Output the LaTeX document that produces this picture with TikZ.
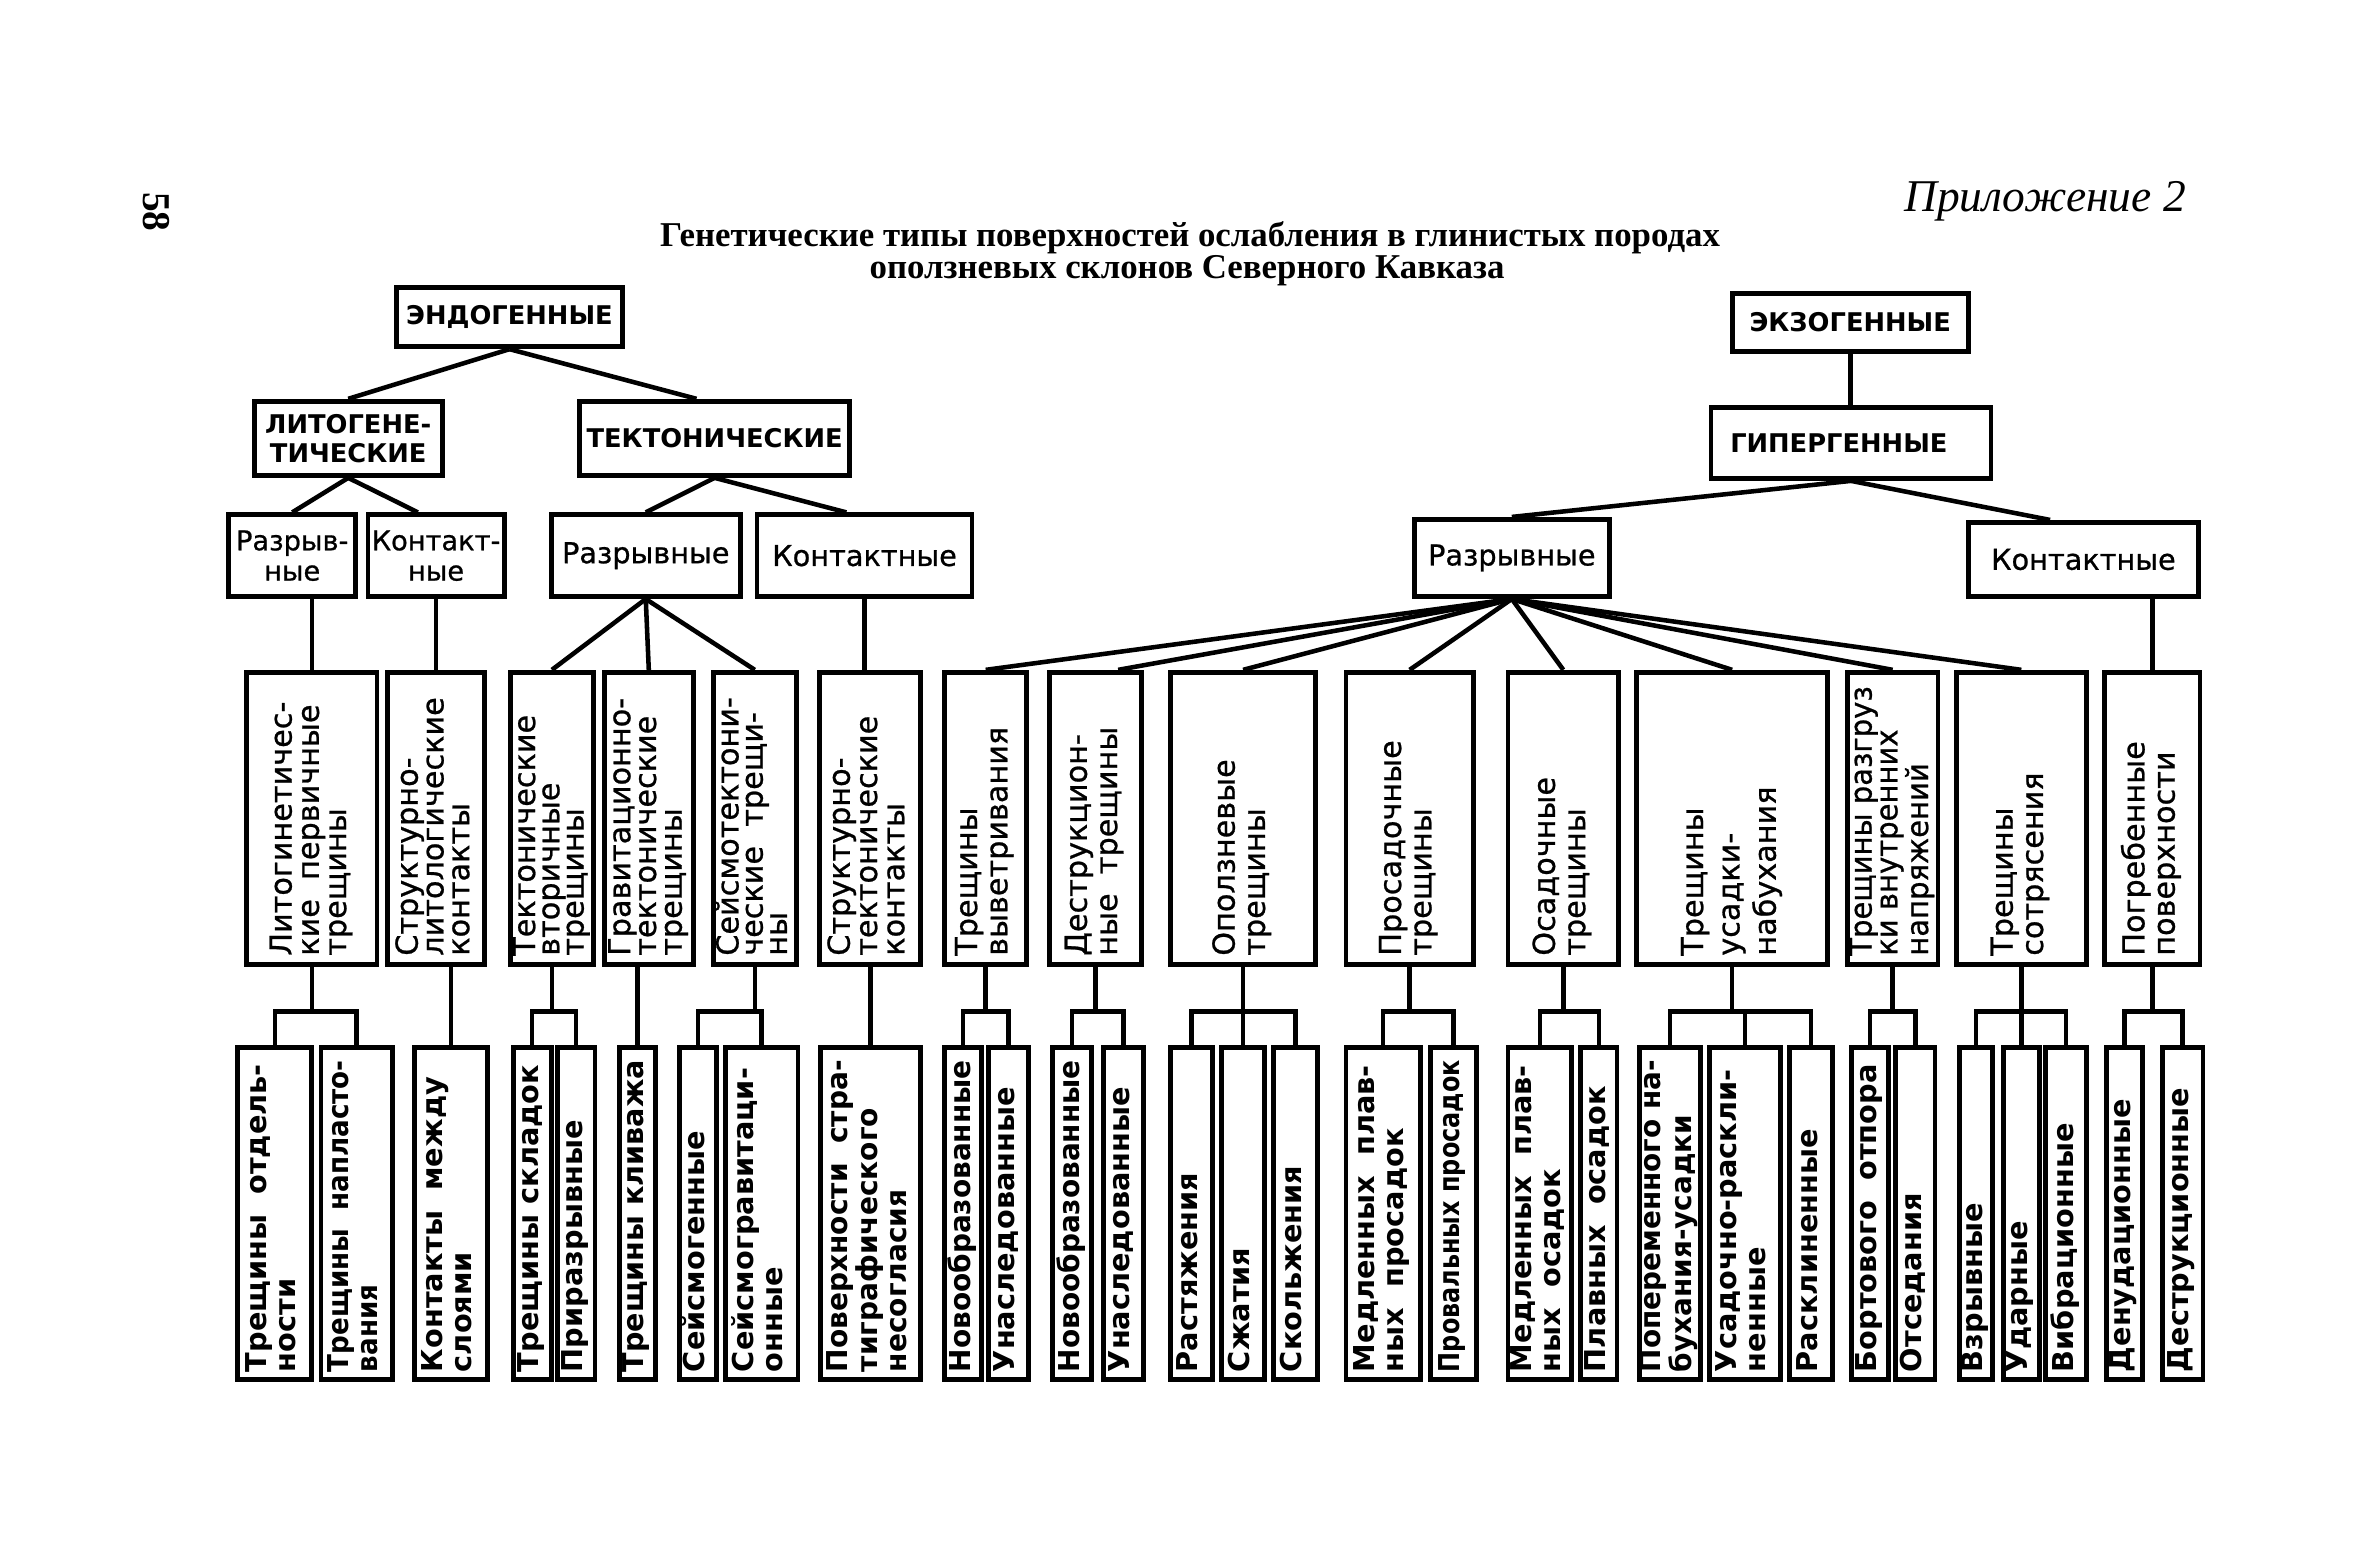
\documentclass[tikz,border=0pt]{standalone}
\usepackage{fontspec}
\usepackage{graphicx}
\setmainfont{Liberation Serif}
\newfontfamily\dvs{DejaVu Sans}
\newfontfamily\dvsm[FakeBold=0.8]{DejaVu Sans}
\usetikzlibrary{fit,calc}
\newsavebox\vtbox
\newcommand\vtext[2]{\sbox\vtbox{\begin{tabular}{@{}l@{}}#2\end{tabular}}\ifdim\wd\vtbox>#1\relax\resizebox{#1}{\height}{\usebox\vtbox}\else\usebox\vtbox\fi}
\newcommand\midbox[5][9.5]{\node[box, fit={(#3,444) (#4,637)}] (#2) {};
  \node[midlab] (#2t) at ($(#2.south)+(0,-7)$) {\fontsize{10}{#1}\selectfont\vtext{89pt}{#5}};}
\newcommand\botbox[5][9.5]{\node[box, fit={(#3,692) (#4,911)}] (#2) {};
  \node[botlab] (#2t) at ($(#2.south)+(0,-6)$) {\fontsize{9.5}{#1}\selectfont\vtext{103pt}{#5}};}
\newcommand\brk[3]{\draw[conn] (#1.south) -- (#1.south |- by);
  \draw[conn] (#2.north) -- (#2.north |- by) -- (#3.north |- by) -- (#3.north);}
\newcommand\drop[1]{\draw[conn] (#1.north) -- (#1.north |- by);}
\begin{document}
\begin{tikzpicture}[x=0.5pt,y=-0.5pt,
  box/.style={draw, line width=1.6pt, inner sep=0pt},
  conn/.style={line width=1.5pt},
  toplab/.style={font=\dvs\bfseries\fontsize{8.5}{9.5}\selectfont, align=center, inner sep=0pt},
  lvlab/.style={font=\dvsm\fontsize{9.5}{10}\selectfont, align=center, inner sep=0pt},
  midlab/.style={rotate=90, anchor=west, inner sep=0pt, font=\dvsm},
  botlab/.style={rotate=90, anchor=west, inner sep=0pt, font=\dvs\bfseries}]
\useasboundingbox (0,0) rectangle (1560,1029.7);
% titles
\node[font=\bfseries\fontsize{11.5}{13}\selectfont, anchor=base, inner sep=0pt] (t1) at (786,163) {Генетические типы поверхностей ослабления в глинистых породах};
\node[font=\bfseries\fontsize{11.5}{13}\selectfont, anchor=base, inner sep=0pt] (t2) at (784,184) {оползневых склонов Северного Кавказа};
\node[font=\itshape\fontsize{15}{17}\selectfont, anchor=base east, inner sep=0pt] (app) at (1444,140) {Приложение 2};
\node[font=\bfseries\fontsize{13}{15}\selectfont, rotate=-90, inner sep=0pt] (pg) at (103,140) {58};
% upper levels
\node[box, fit={(262,190) (411,229)}] (endo) {};
\node[box, fit={(1144,194) (1300,232)}] (exo) {};
\node[box, fit={(168,265) (292,314)}] (lito) {};
\node[box, fit={(383,265) (561,314)}] (tekt) {};
\node[box, fit={(1130,269) (1315,316)}] (hyp) {};
\node[box, fit={(151,340) (235,394)}] (lr) {};
\node[box, fit={(243,340) (333,394)}] (lk) {};
\node[box, fit={(364,340) (489,394)}] (tr) {};
\node[box, fit={(500,340) (642,394)}] (tk) {};
\node[box, fit={(934,343) (1063,394)}] (hr) {};
\node[box, fit={(1300,345) (1452,394)}] (hk) {};
\node[toplab] (endot) at (endo.center) {ЭНДОГЕННЫЕ};
\node[toplab] (exot) at (exo.center) {ЭКЗОГЕННЫЕ};
\node[toplab] (litot) at (lito.center) {ЛИТОГЕНЕ-\\ТИЧЕСКИЕ};
\node[toplab] (tektt) at (tekt.center) {ТЕКТОНИЧЕСКИЕ};
\node[toplab] (hypt) at ($(hyp.center)+(-8,0)$) {ГИПЕРГЕННЫЕ};
\node[lvlab, font=\dvsm\fontsize{9}{10}\selectfont] (lrt) at (lr.center) {Разрыв-\\ные};
\node[lvlab, font=\dvsm\fontsize{9}{10}\selectfont] (lkt) at (lk.center) {Контакт-\\ные};
\node[lvlab] (trt) at (tr.center) {Разрывные};
\node[lvlab] (tkt) at (tk.center) {Контактные};
\node[lvlab] (hrt) at (hr.center) {Разрывные};
\node[lvlab] (hkt) at (hk.center) {Контактные};
% middle row
\midbox[9]{m1}{163}{249}{Литогинетичес-\\кие \ первичные\\трещины}
\midbox[8.5]{m2}{256}{320}{Структурно-\\литологические\\контакты}
\midbox[8]{m3}{337}{392}{Тектонические\\вторичные\\трещины}
\midbox[8.5]{m4}{399}{458}{Гравитационно-\\тектонические\\трещины}
\midbox[8]{m5}{471}{526}{Сейсмотектони-\\ческие \ трещи-\\ны}
\midbox[9]{m6}{541}{608}{Структурно-\\тектонические\\контакты}
\midbox[10]{m7}{624}{678}{Трещины\\выветривания}
\midbox[10]{m8}{693}{754}{Деструкцион-\\ные \ трещины}
\midbox[10]{m9}{773}{869}{Оползневые\\трещины}
\midbox[10]{m10}{889}{973}{Просадочные\\трещины}
\midbox[10]{m11}{996}{1069}{Осадочные\\трещины}
\midbox[12]{m12}{1081}{1207}{Трещины\\усадки-\\набухания}
\midbox[8.5]{m13}{1220}{1280}{Трещины разгруз\\ки внутренних\\напряжений}
\midbox[10]{m14}{1292}{1378}{Трещины\\сотрясения}
\midbox[10]{m15}{1390}{1453}{Погребенные\\поверхности}
% bottom row
\botbox{b1a}{157}{206}{Трещины \ отдель-\\ности}
\botbox{b1b}{212}{259}{Трещины \ напласто-\\вания}
\botbox{b2}{274}{322}{Контакты \ между\\слоями}
\botbox{b3a}{339}{364}{Трещины складок}
\botbox{b3b}{368}{393}{Приразрывные}
\botbox{b4}{409}{433}{Трещины кливажа}
\botbox{b5a}{449}{473}{Сейсмогенные}
\botbox{b5b}{479}{527}{Сейсмогравитаци-\\онные}
\botbox{b6}{542}{608}{Поверхности \ стра-\\тиграфического\\несогласия}
\botbox{b7a}{624}{648}{Новообразованные}
\botbox{b7b}{653}{679}{Унаследованные}
\botbox{b8a}{695}{721}{Новообразованные}
\botbox{b8b}{729}{755}{Унаследованные}
\botbox{b9a}{773}{801}{Растяжения}
\botbox{b9b}{807}{835}{Сжатия}
\botbox{b9c}{841}{870}{Скольжения}
\botbox{b10a}{889}{938}{Медленных \ плав-\\ных \ просадок}
\botbox{b10b}{945}{975}{Провальных просадок}
\botbox{b11a}{996}{1038}{Медленных \ плав-\\ных \ осадок}
\botbox{b11b}{1044}{1068}{Плавных \ осадок}
\botbox{b12a}{1083}{1123}{Попеременного на-\\бухания-усадки}
\botbox{b12b}{1129}{1176}{Усадочно-раскли-\\ненные}
\botbox{b12c}{1182}{1210}{Расклиненные}
\botbox{b13a}{1223}{1247}{Бортового \ отпора}
\botbox{b13b}{1252}{1278}{Отседания}
\botbox{b14a}{1294}{1316}{Взрывные}
\botbox{b14b}{1323}{1347}{Ударные}
\botbox{b14c}{1351}{1378}{Вибрационные}
\botbox{b15a}{1391}{1415}{Денудационные}
\botbox{b15b}{1428}{1455}{Деструкционные}
% upper connectors
\draw[conn] (endo.south) -- (lito.north);
\draw[conn] (endo.south) -- ($(tekt.north)+(-12,0)$);
\draw[conn] (lito.south) -- (lr.north);
\draw[conn] (lito.south) -- ($(lk.north)+(-12,0)$);
\draw[conn] (tekt.south) -- (tr.north);
\draw[conn] (tekt.south) -- ($(tk.north)+(-12,0)$);
\draw[conn] (exo.south) -- (exo.south |- hyp.north);
\draw[conn] (hyp.south) -- (hr.north);
\draw[conn] (hyp.south) -- ($(hk.north)+(-22,0)$);
% level 3 to middle
\draw[conn] (m1.north) -- (m1.north |- lr.south);
\draw[conn] (m2.north) -- (m2.north |- lk.south);
\draw[conn] (tr.south) -- (m3.north);
\draw[conn] (tr.south) -- (m4.north);
\draw[conn] (tr.south) -- (m5.north);
\draw[conn] (tk.south) -- (tk.south |- m6.north);
\foreach \m in {m7,m9,m10,m11,m12,m13,m14} {\draw[conn] (hr.south) -- (\m.north);}
\draw[conn] (hr.south) -- ($(m8.north)+(15,0)$);
\draw[conn] (m15.north) -- (m15.north |- hk.south);
% middle to bottom
\coordinate (by) at (0,668);
\brk{m1}{b1a}{b1b}
\draw[conn] (b2.north) -- (b2.north |- m2.south);
\brk{m3}{b3a}{b3b}
\draw[conn] (b4.north) -- (b4.north |- m4.south);
\brk{m5}{b5a}{b5b}
\draw[conn] (b6.north) -- (b6.north |- m6.south);
\brk{m7}{b7a}{b7b}
\brk{m8}{b8a}{b8b}
\brk{m9}{b9a}{b9c}\drop{b9b}
\brk{m10}{b10a}{b10b}
\brk{m11}{b11a}{b11b}
\brk{m12}{b12a}{b12c}\drop{b12b}
\brk{m13}{b13a}{b13b}
\brk{m14}{b14a}{b14c}\drop{b14b}
\brk{m15}{b15a}{b15b}
\end{tikzpicture}
\end{document}
